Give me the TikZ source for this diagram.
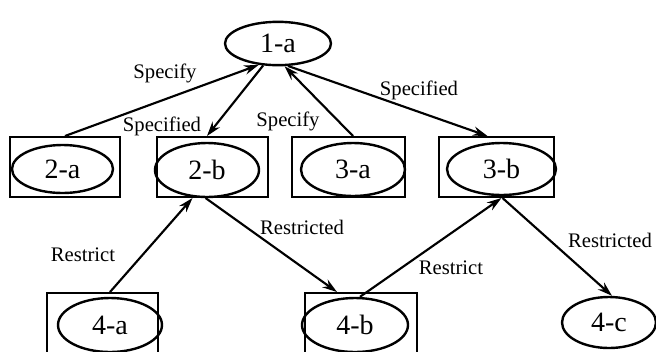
\documentclass[tikz,border=0pt]{standalone}
\usepackage{fontspec}
\setmainfont{Liberation Serif}
\usetikzlibrary{shapes.geometric,arrows.meta,calc}

\tikzset{
  frame/.style={draw, line width=1.5pt, rectangle, inner sep=0pt},
  oval/.style={draw, line width=1.8pt, ellipse, inner sep=0pt,
    font=\fontsize{21}{21}\selectfont},
  link/.style={line width=1.6pt, -{Stealth[length=11pt,width=7pt]}},
  tag/.style={font=\fontsize{15.5}{15.5}\selectfont, inner sep=0pt}
}

\begin{document}
\begin{tikzpicture}[x=0.75pt, y=-0.75pt]
  \clip (0,0) rectangle (656,351);
  \fill[white] (0,0) rectangle (656,351);

  % top concept
  \node[oval, minimum width=79.5pt, minimum height=32.5pt] (e1a) at (278,43.5) {1-a};

  % second row: framed ovals
  \node[frame, minimum width=82.5pt, minimum height=45pt] (b2a) at (65,167) {};
  \node[oval, minimum width=75.75pt, minimum height=36pt] (e2a) at (62.5,169) {2-a};
  \node[frame, minimum width=83.25pt, minimum height=45pt] (b2b) at (212.5,167) {};
  \node[oval, minimum width=78pt, minimum height=40.5pt] (e2b) at (207,170) {2-b};
  \node[frame, minimum width=84.75pt, minimum height=45pt] (b3a) at (348.5,167) {};
  \node[oval, minimum width=78pt, minimum height=39.75pt] (e3a) at (353,169.5) {3-a};
  \node[frame, minimum width=86.25pt, minimum height=45pt] (b3b) at (496.5,167) {};
  \node[oval, minimum width=81.75pt, minimum height=39pt] (e3b) at (501.5,169) {3-b};

  % bottom row
  \node[frame, minimum width=83.25pt, minimum height=45pt] (b4a) at (102.5,323) {};
  \node[oval, minimum width=78pt, minimum height=40.5pt] (e4a) at (110,325) {4-a};
  \node[frame, minimum width=84pt, minimum height=45pt] (b4b) at (361,323) {};
  \node[oval, minimum width=79.5pt, minimum height=40.5pt] (e4b) at (355,325) {4-b};
  \node[oval, minimum width=70.5pt, minimum height=38.25pt] (e4c) at (609,322.5) {4-c};

  % connectors
  \draw[link] (b2a.north) -- (e1a.228);
  \draw[link] (e1a.236) -- (b2b.north -| e2b.north);
  \draw[link] (b3a.north -| e3a.north) -- (e1a.286);
  \draw[link] (e1a.294) -- ($(b3b.north)+(-9,0)$);
  \draw[link] (b4a.north -| e4a.north) -- ($(b2b.south)+(-20,0)$);
  \draw[link] ($(b2b.south)+(-7,0)$) -- ($(b4b.north)+(-24,0)$);
  \draw[link] ($(e4b.north)+(5,0)$) -- (b3b.south -| e3b.south);
  \draw[link] ($(b3b.south)+(6,0)$) -- ($(e4c.north)+(3,0)$);

  % connector labels
  \node[tag] (l1) at (165,73) {Specify};
  \node[tag] (l2) at (162,126) {Specified};
  \node[tag] (l3) at (288,121) {Specify};
  \node[tag] (l4) at (419,90) {Specified};
  \node[tag] (l5) at (83,255) {Restrict};
  \node[tag] (l6) at (302,227) {Restricted};
  \node[tag] (l7) at (451,268) {Restrict};
  \node[tag] (l8) at (610,240) {Restricted};
\end{tikzpicture}
\end{document}
